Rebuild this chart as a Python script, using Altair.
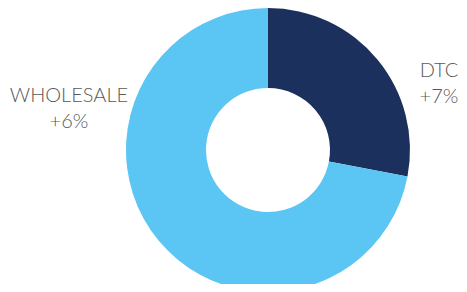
import altair as alt
import pandas as pd

categories = ["DTC", "WHOLESALE"]
shares = [28, 72]
growth = ["+7%", "+6%"]
colors = ["#1b305c", "#5bc6f3"]

df = pd.DataFrame({"cat": categories, "share": shares, "order": [0, 1]})
lab = pd.DataFrame({
    "text": [[c, g] for c, g in zip(categories, growth)],
    "x": [431, 61],
    "y": [63, 88],
})

arc = alt.Chart(df).mark_arc(outerRadius=142, innerRadius=62, stroke=None).encode(
    theta=alt.Theta("share:Q", stack=True),
    order=alt.Order("order:Q"),
    color=alt.Color("cat:N", scale=alt.Scale(domain=categories, range=colors), legend=None),
    x=alt.value(260),
    y=alt.value(142),
)

text = alt.Chart(lab).mark_text(
    font="Lato", fontSize=20, fontWeight=300, color="#595959", align="center",
    baseline="middle", lineHeight=26
).encode(
    x=alt.X("x:Q", scale=None),
    y=alt.Y("y:Q", scale=None),
    text="text",
)

chart = alt.layer(arc, text).properties(width=451, height=276, padding=0, autosize="none").configure_view(stroke=None)
chart.save("out.html", embed_options={"renderer": "svg", "actions": False})
